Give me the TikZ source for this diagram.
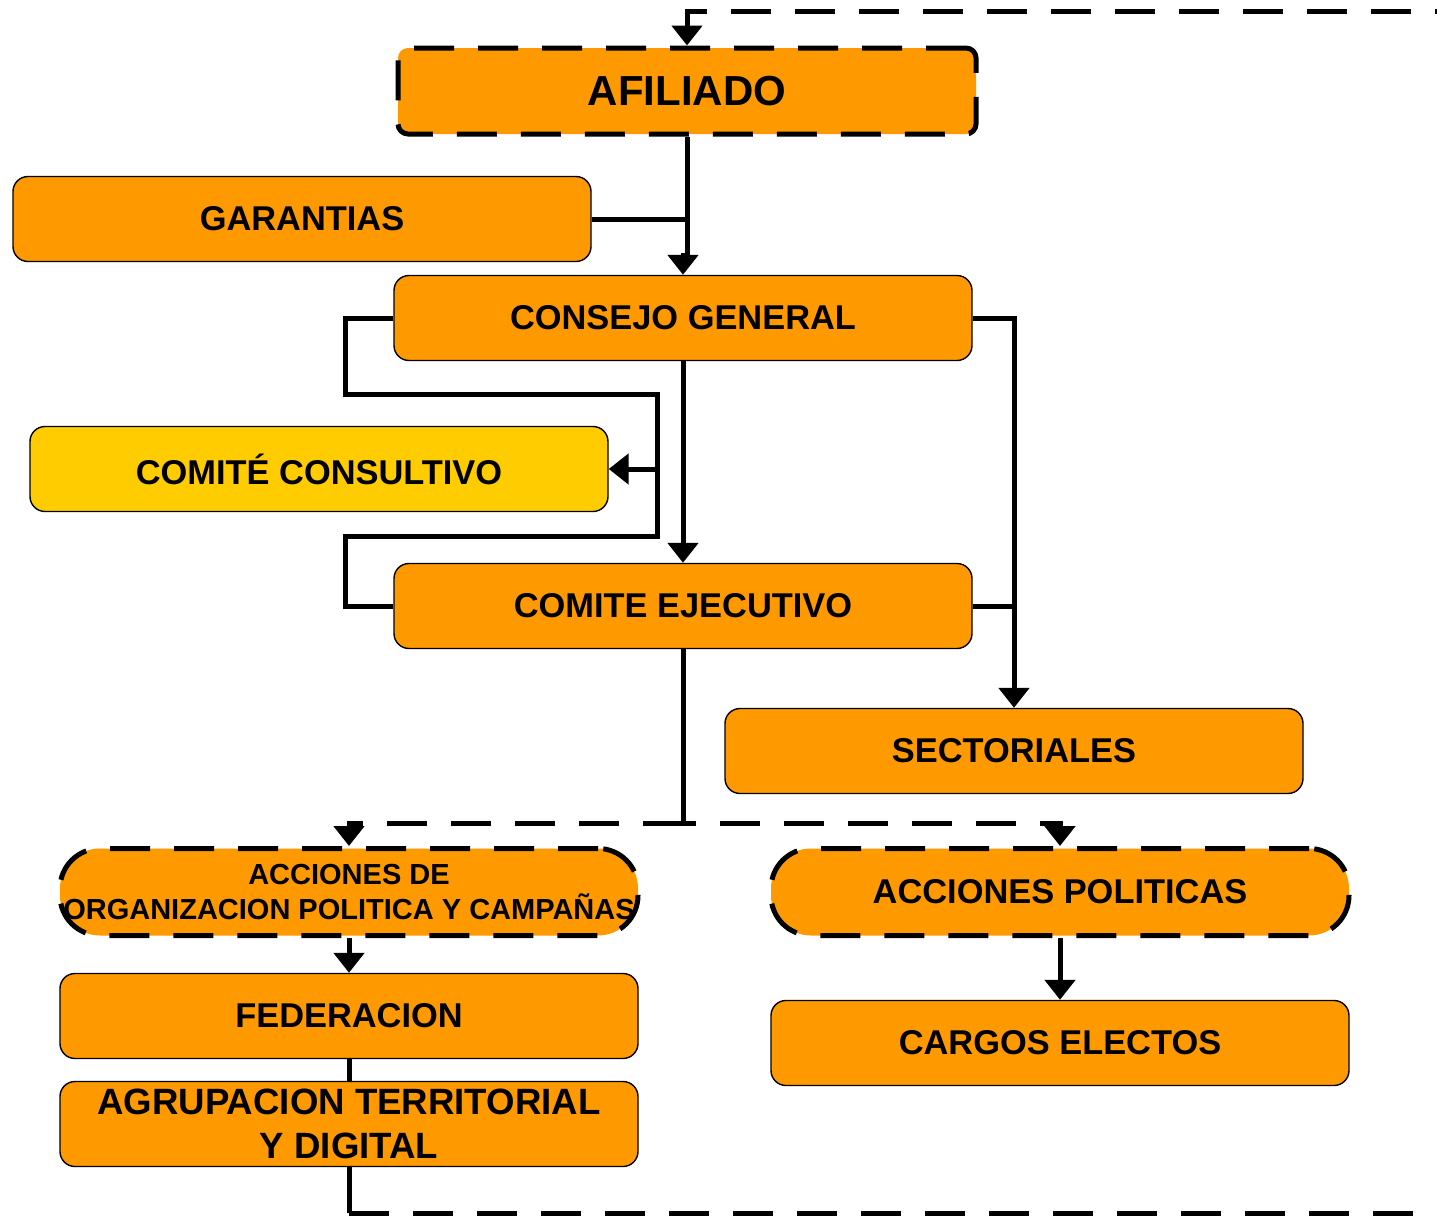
\documentclass[tikz,border=0pt]{standalone}
\usepackage{fontspec}
\setmainfont{Liberation Sans}
\usetikzlibrary{arrows.meta}
\definecolor{boxorange}{HTML}{FF9900}
\definecolor{boxyellow}{HTML}{FFCC00}
\begin{document}
\begin{tikzpicture}[x=0.5pt,y=-0.5pt,
    box/.style={draw,line width=0.7pt,fill=boxorange,rounded corners=7.5pt,
        minimum width=289pt,minimum height=42.5pt,inner sep=0pt,align=center,
        font=\fontsize{17.2}{20.6}\selectfont\bfseries},
    dashbox/.style={box,line width=2.5pt,dash pattern=on 20pt off 12pt},
    link/.style={line width=2.5pt},
    dashlink/.style={line width=2.5pt,dash pattern=on 20pt off 12pt},
    arr/.style={-{Triangle[width=15pt,length=10pt]}}]
    \useasboundingbox (0,0) rectangle (1437,1216);
    % boxes
    \node [dashbox,rounded corners=5pt,minimum height=43pt,
        font=\fontsize{21}{25}\selectfont\bfseries] (afiliado) at (687,91) {AFILIADO};
    \node [box] (garantias) at (302,219) {GARANTIAS};
    \node [box] (consejo) at (683,318) {CONSEJO GENERAL};
    \node [box,fill=boxyellow] (consultivo) at (319,469) {COMITÉ CONSULTIVO};
    \node [box] (ejecutivo) at (683,606) {COMITE EJECUTIVO};
    \node [box] (sectoriales) at (1014,751) {SECTORIALES};
    \node [dashbox,rounded corners=20pt,minimum height=43.5pt,
        font=\fontsize{14.5}{17.5}\selectfont\bfseries] (organizacion) at (349,892)
        {ACCIONES DE\\ORGANIZACION POLITICA Y CAMPAÑAS};
    \node [dashbox,rounded corners=20pt,minimum height=43.5pt] (politicas) at (1060,892)
        {ACCIONES POLITICAS};
    \node [box] (federacion) at (349,1016) {FEDERACION};
    \node [box] (cargos) at (1060,1043) {CARGOS ELECTOS};
    \node [box,font=\fontsize{18.3}{22}\selectfont\bfseries] (agrupacion) at (349,1124)
        {AGRUPACION TERRITORIAL\\Y DIGITAL};
    % connectors
    \coordinate (topin) at (1437,11);
    \coordinate (garjoin) at (687,219);
    \coordinate (loopright) at (657,469);
    \coordinate (secjoin) at (1014,606);
    \coordinate (split) at (683,823);
    \coordinate (bottomturn) at (349,1213);
    \coordinate (bottomout) at (1437,1213);
    \draw [dashlink,dash phase=19pt,arr] (topin) -| (afiliado.north);
    \draw [link,arr] (afiliado.south) -- (687,255) -| (consejo.north);
    \draw [link] (garantias.east) -- (garjoin);
    \draw [link] (consejo.west) -| (345,394) -| (657,536) -| (345,606) -- (ejecutivo.west);
    \draw [link,arr] (loopright) -- (consultivo.east);
    \draw [link,arr] (consejo.south) -- (ejecutivo.north);
    \draw [link,arr] (consejo.east) -| (sectoriales.north);
    \draw [link] (ejecutivo.east) -- (secjoin);
    \draw [link] (ejecutivo.south) -- (split);
    \draw [dashlink,arr] (split) -| (organizacion.north);
    \draw [dashlink,dash phase=13.5pt,arr] (split) -| (politicas.north);
    \draw [link,arr] (organizacion.south) -- (federacion.north);
    \draw [link,arr] (politicas.south) -- (cargos.north);
    \draw [link] (federacion.south) -- (agrupacion.north);
    \draw [link] (agrupacion.south) -- (bottomturn);
    \draw [dashlink] (bottomturn) -- (bottomout);
\end{tikzpicture}
\end{document}
